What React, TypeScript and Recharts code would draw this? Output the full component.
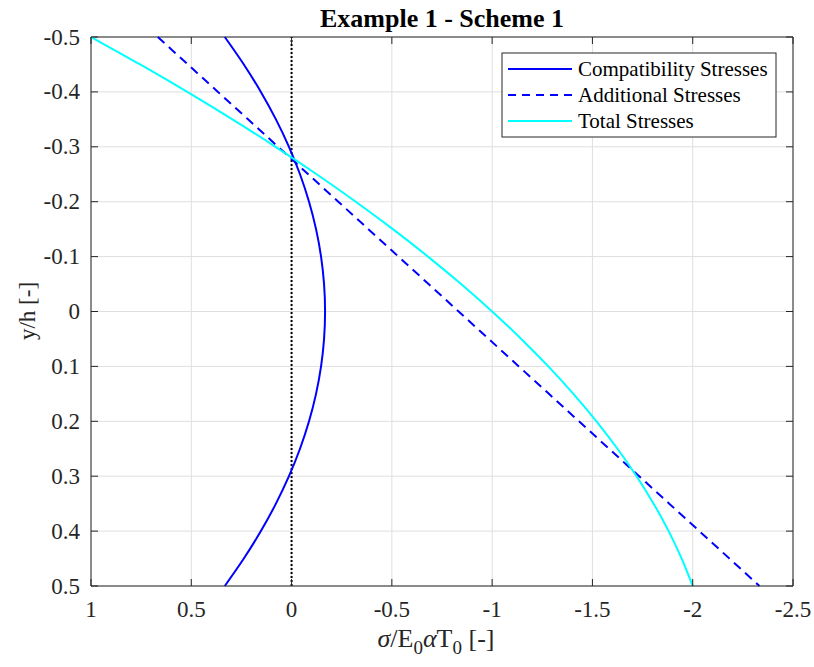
import { LineChart, Line, XAxis, YAxis, CartesianGrid, ReferenceLine } from 'recharts';

// y/h positions of the sampled points
const Y_POS = [
  -0.5, -0.45, -0.4, -0.35, -0.3, -0.25, -0.2, -0.15, -0.1, -0.05, 0,
  0.05, 0.1, 0.15, 0.2, 0.25, 0.3, 0.35, 0.4, 0.45, 0.5,
];
const COMPAT = [
  0.333, 0.238, 0.153, 0.078, 0.013, -0.042, -0.087, -0.122, -0.147, -0.162, -0.167,
  -0.162, -0.147, -0.122, -0.087, -0.042, 0.013, 0.078, 0.153, 0.238, 0.333,
];
const ADDITIONAL = [
  0.667, 0.517, 0.367, 0.217, 0.067, -0.083, -0.233, -0.383, -0.533, -0.683, -0.833,
  -0.983, -1.133, -1.283, -1.433, -1.583, -1.733, -1.883, -2.033, -2.183, -2.333,
];
const TOTAL = [
  1.0, 0.755, 0.52, 0.295, 0.08, -0.125, -0.32, -0.505, -0.68, -0.845, -1.0,
  -1.145, -1.28, -1.405, -1.52, -1.625, -1.72, -1.805, -1.88, -1.945, -2.0,
];
const X_TICKS = [1, 0.5, 0, -0.5, -1, -1.5, -2, -2.5];
const Y_TICKS = [-0.5, -0.4, -0.3, -0.2, -0.1, 0, 0.1, 0.2, 0.3, 0.4, 0.5];

const LEGEND = [
  { name: 'Compatibility Stresses', color: '#0000ff', dash: undefined },
  { name: 'Additional Stresses', color: '#0000ff', dash: '8 6' },
  { name: 'Total Stresses', color: '#00ffff', dash: undefined },
];

const W = 814;
const H = 667;
const M = { top: 37, right: 21, left: 31, bottom: 41 };
const Y_AXIS_W = 60;
const X_AXIS_H = 40;
const PLOT_L = M.left + Y_AXIS_W;
const PLOT_R = W - M.right;
const PLOT_T = M.top;
const PLOT_B = H - M.bottom - X_AXIS_H;
const TICK = 7;
const FONT = '"Liberation Serif", "Times New Roman", serif';
const INK = '#262626';

const rows = Y_POS.map((y, i) => ({
  y,
  compat: COMPAT[i],
  additional: ADDITIONAL[i],
  total: TOTAL[i],
}));

const XTick = (props: any) => {
  const x = props.payload.coordinate;
  return (
    <g>
      <line x1={x} x2={x} y1={PLOT_B} y2={PLOT_B - TICK} stroke={INK} />
      <line x1={x} x2={x} y1={PLOT_T} y2={PLOT_T + TICK} stroke={INK} />
      <text x={x} y={PLOT_B + 31} textAnchor="middle" fontFamily={FONT} fontSize={23} fill={INK}>
        {String(props.payload.value)}
      </text>
    </g>
  );
};

const YTick = (props: any) => {
  const y = props.payload.coordinate;
  return (
    <g>
      <line x1={PLOT_L} x2={PLOT_L + TICK} y1={y} y2={y} stroke={INK} />
      <line x1={PLOT_R} x2={PLOT_R - TICK} y1={y} y2={y} stroke={INK} />
      <text x={PLOT_L - 11} y={y} textAnchor="end" dominantBaseline="central" fontFamily={FONT} fontSize={23} fill={INK}>
        {String(props.payload.value)}
      </text>
    </g>
  );
};

export default function App() {
  return (
    <div style={{ position: 'absolute', left: 0, top: 0, width: W, height: H, background: '#fff' }}>
      <LineChart width={W} height={H} layout="vertical" data={rows} margin={M}>
        <CartesianGrid stroke="#dfdfdf" horizontalValues={Y_TICKS} verticalValues={X_TICKS} />
        <XAxis
          type="number"
          domain={[-2.5, 1]}
          ticks={X_TICKS}
          reversed
          height={X_AXIS_H}
          tickLine={false}
          tick={<XTick />}
          axisLine={{ stroke: INK }}
          interval={0}
        />
        <YAxis
          type="number"
          dataKey="y"
          domain={[-0.5, 0.5]}
          ticks={Y_TICKS}
          width={Y_AXIS_W}
          tickLine={false}
          tick={<YTick />}
          axisLine={{ stroke: INK }}
          interval={0}
        />
        <ReferenceLine y={-0.5} stroke={INK} />
        <ReferenceLine x={-2.5} stroke={INK} />
        <ReferenceLine x={0} stroke="#000" strokeWidth={2} strokeDasharray="2 2" />
        <Line type="monotone" dataKey="compat" stroke="#0000ff" strokeWidth={2} dot={false} isAnimationActive={false} />
        <Line type="monotone" dataKey="additional" stroke="#0000ff" strokeWidth={2} strokeDasharray="9 6" dot={false} isAnimationActive={false} />
        <Line type="monotone" dataKey="total" stroke="#00ffff" strokeWidth={2} dot={false} isAnimationActive={false} />
      </LineChart>

      {/* title, axis labels and legend */}
      <svg width={W} height={H} style={{ position: 'absolute', left: 0, top: 0, pointerEvents: 'none' }}>
        <text x={(PLOT_L + PLOT_R) / 2} y={27} textAnchor="middle" fontFamily={FONT} fontSize={26} fontWeight="bold" fill="#000">
          Example 1 - Scheme 1
        </text>
        <text x={436} y={647} textAnchor="middle" fontFamily={FONT} fontSize={26} fill={INK}>
          <tspan fontStyle="italic">σ</tspan>
          <tspan>/E</tspan>
          <tspan fontSize={19} dy={7}>0</tspan>
          <tspan fontStyle="italic" dy={-7}>α</tspan>
          <tspan>T</tspan>
          <tspan fontSize={19} dy={7}>0</tspan>
          <tspan dy={-7}> [-]</tspan>
        </text>
        <text
          x={27}
          y={311}
          textAnchor="middle"
          dominantBaseline="central"
          transform="rotate(-90 27 311)"
          fontFamily={FONT}
          fontSize={23}
          fill={INK}
        >
          y/h [-]
        </text>
        <rect x={502} y={53} width={274} height={84} fill="#fff" stroke={INK} />
        {LEGEND.map((item, i) => {
          const cy = 69 + i * 26;
          return (
            <g key={item.name}>
              <line x1={508} x2={572} y1={cy} y2={cy} stroke={item.color} strokeWidth={2} strokeDasharray={item.dash} />
              <text x={578} y={cy} dominantBaseline="central" fontFamily={FONT} fontSize={21} fill="#000">
                {item.name}
              </text>
            </g>
          );
        })}
      </svg>
    </div>
  );
}
